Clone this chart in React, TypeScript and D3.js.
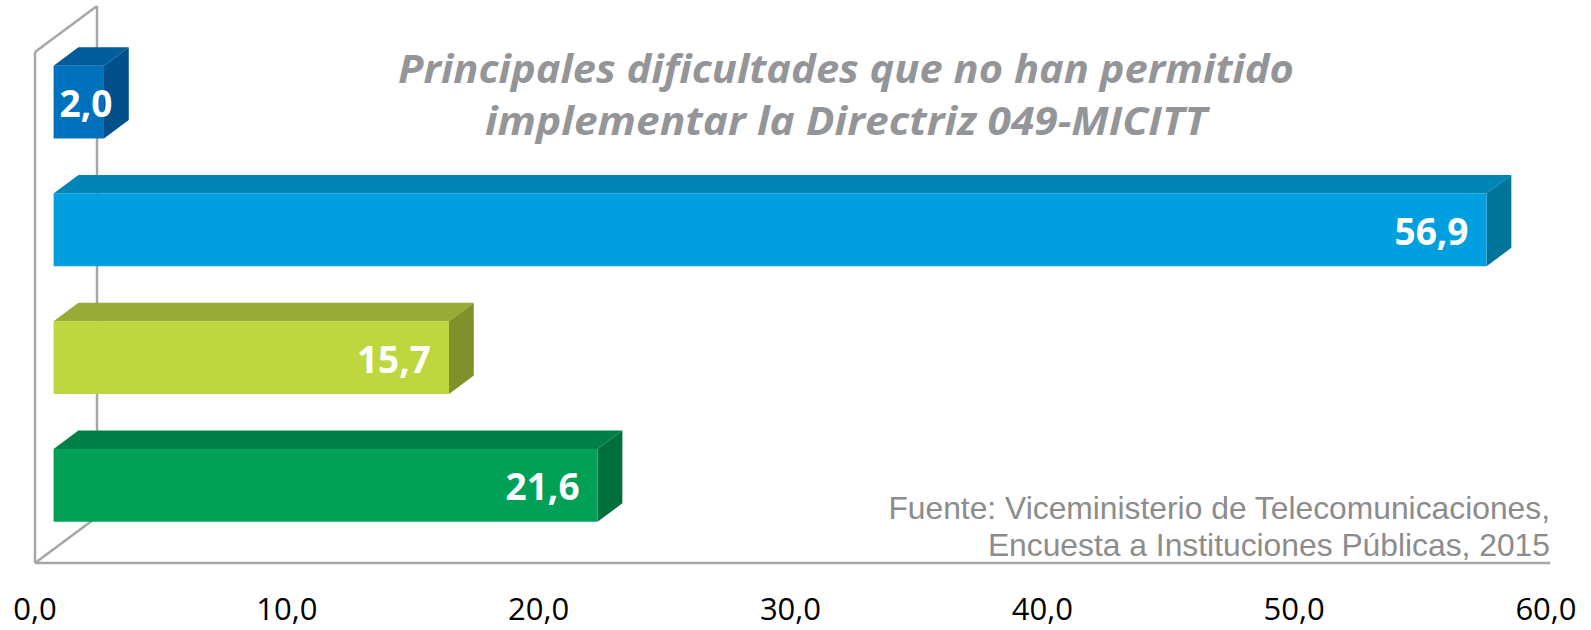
import React from "react";
import * as d3 from "d3";

const categories = ["A", "B", "C", "D"];
const values = [2.0, 56.9, 15.7, 21.6];
const tickValues = [0, 10, 20, 30, 40, 50, 60];
const titleLines = [
  "Principales dificultades que no han permitido",
  "implementar la Directriz 049-MICITT",
];
const sourceLines = [
  "Fuente: Viceministerio de Telecomunicaciones,",
  "Encuesta a Instituciones Públicas, 2015",
];
const frontColors = ["#0071bc", "#00a0e0", "#bed73f", "#00a156"];
const topColors = ["#005c9b", "#0085b6", "#9aab35", "#008049"];
const sideColors = ["#00508a", "#00749b", "#809129", "#00703a"];

const W = 1591;
const H = 630;
const DX = 62; // full depth offset
const DY = -46;
const F0 = 0.3; // bar front depth fraction
const F1 = 0.7; // bar back depth fraction
const fmt = (v: number) => d3.format(".1f")(v).replace(".", ",");

export default function App() {
  const x = d3.scaleLinear().domain([0, 60]).range([35, 1546]);
  const y = d3
    .scaleBand<string>()
    .domain(categories)
    .range([52, 563])
    .paddingInner(0.43)
    .paddingOuter(0.215);
  const bh = y.bandwidth();
  const wallColor = "#a6a6a6";
  const x0 = x(0);
  const yTop = 52;
  const yBot = 563;
  const titleWidths = [896, 722];

  return (
    <svg
      width={W}
      height={H}
      style={{ position: "absolute", left: 0, top: 0, background: "#fff" }}
    >
      {/* back wall vertical (behind bars) */}
      <line x1={x0 + DX} y1={yTop + DY} x2={x0 + DX} y2={yBot + DY} stroke={wallColor} strokeWidth={2.5} />
      <line x1={x0} y1={yTop} x2={x0 + DX} y2={yTop + DY} stroke={wallColor} strokeWidth={2.5} />
      <line x1={x0} y1={yBot} x2={x0 + DX} y2={yBot + DY} stroke={wallColor} strokeWidth={2.5} />
      <line x1={x0} y1={yTop} x2={x0} y2={yBot} stroke={wallColor} strokeWidth={2.5} />
      <line x1={x0} y1={yBot} x2={x(60) + 4} y2={yBot} stroke={wallColor} strokeWidth={2.5} />

      {/* title */}
      {titleLines.map((t, i) => (
        <text
          key={i}
          x={846}
          y={83 + i * 52}
          textAnchor="middle"
          fontFamily="'Open Sans', sans-serif"
          fontWeight={700}
          fontStyle="italic"
          fontSize={40}
          fill="#939598"
          textLength={titleWidths[i]}
          lengthAdjust="spacingAndGlyphs"
        >
          {t}
        </text>
      ))}

      {/* bars */}
      {categories.map((c, i) => {
        const v = values[i];
        const yb = y(c)!;
        const fx0 = x(0) + DX * F0;
        const fx1 = x(v) + DX * F0;
        const fy0 = yb + DY * F0;
        const fy1 = fy0 + bh;
        const ddx = DX * (F1 - F0);
        const ddy = DY * (F1 - F0);
        const topPts = [
          [fx0, fy0],
          [fx1, fy0],
          [fx1 + ddx, fy0 + ddy],
          [fx0 + ddx, fy0 + ddy],
        ];
        const sidePts = [
          [fx1, fy0],
          [fx1 + ddx, fy0 + ddy],
          [fx1 + ddx, fy1 + ddy],
          [fx1, fy1],
        ];
        const line = d3.line();
        const label = fmt(v);
        const fits = fx1 - fx0 > 110;
        return (
          <g key={c}>
            <path d={line(topPts as [number, number][])! + "Z"} fill={topColors[i]} />
            <path d={line(sidePts as [number, number][])! + "Z"} fill={sideColors[i]} />
            <rect x={fx0} y={fy0} width={fx1 - fx0} height={bh} fill={frontColors[i]} />
            <text
              x={fits ? fx1 - 18 : fx0 + 6}
              y={fy0 + bh / 2 + 15}
              textAnchor={fits ? "end" : "start"}
              fontFamily="'Open Sans', sans-serif"
              fontWeight={700}
              fontSize={37}
              fill="#ffffff"
            >
              {label}
            </text>
          </g>
        );
      })}

      {/* source */}
      {sourceLines.map((t, i) => (
        <text
          key={i}
          x={1550}
          y={519 + i * 37}
          textAnchor="end"
          fontFamily="'Liberation Sans', Arial, sans-serif"
          fontSize={31.8}
          fill="#8c8c8c"
        >
          {t}
        </text>
      ))}

      {/* axis tick labels */}
      {tickValues.map((t) => (
        <text
          key={t}
          x={x(t)}
          y={620}
          textAnchor="middle"
          fontFamily="'Open Sans', sans-serif"
          fontSize={31}
          fill="#000"
        >
          {fmt(t)}
        </text>
      ))}
    </svg>
  );
}
